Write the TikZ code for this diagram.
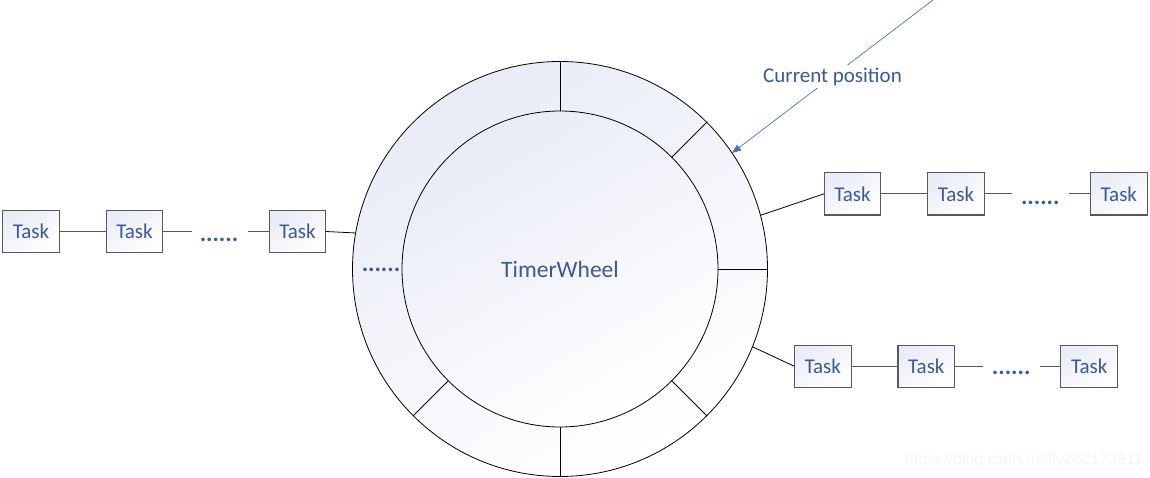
\documentclass[tikz,border=0pt]{standalone}
\usepackage{fontspec}
\setmainfont{Carlito}
\newfontfamily\markfont{Liberation Sans}
\usetikzlibrary{arrows.meta}
\definecolor{wheelblue}{RGB}{59,89,152}
\definecolor{ptrblue}{RGB}{68,114,196}
\definecolor{wheelshade}{RGB}{233,236,246}
\definecolor{boxgray}{RGB}{89,89,89}
\tikzset{
  softfill/.style={top color=wheelshade,bottom color=white,middle color=white!50!wheelshade,shading angle=30},
  wheelring/.style={circle,draw,line width=.8pt,inner sep=0pt,outer sep=0pt,minimum size=415pt,softfill},
  wheelhub/.style={circle,draw,line width=.8pt,inner sep=0pt,outer sep=0pt,minimum size=316pt,softfill,text=wheelblue,font=\fontsize{23.5}{28}\selectfont},
  taskbox/.style={draw=boxgray,line width=1.1pt,inner sep=0pt,outer sep=0pt,minimum width=56.7pt,minimum height=42.5pt,softfill,text=wheelblue,font=\fontsize{21}{25}\selectfont},
  taskdots/.style={inner sep=0pt,text=wheelblue,font=\fontsize{24}{28}\selectfont\bfseries},
  chainline/.style={draw=boxgray,line width=1.1pt},
  slotline/.style={line width=.8pt},
  ptrarr/.style={-{Triangle[length=9pt,width=7pt]},draw=ptrblue,line width=.7pt},
  ptrlabel/.style={fill=white,inner sep=3pt,text=wheelblue,font=\fontsize{21}{25}\selectfont},
  watermark/.style={text=gray!8,font=\markfont\fontsize{16}{19}\selectfont}
}
\begin{document}
\begin{tikzpicture}[x=1pt,y=-1pt]
  \useasboundingbox (0,0) rectangle (1150,478);
  \node[wheelring] (wheel) at (560,269) {};
  \node[wheelhub] (hub) at (560,269) {TimerWheel};
  \foreach \a in {90,45,0,-45,-90,-135} \draw[slotline] (hub.\a) -- (wheel.\a);
  \node[taskdots] (slotdots) at (381,270) {......};

  \node[taskbox] (t11) at (31,231.5) {Task}; \node[taskbox] (t12) at (134.5,231.5) {Task}; \node[taskbox] (t13) at (297.5,231.5) {Task};
  \node[taskdots] (d1) at (219,240) {......};
  \coordinate (d1a) at (191.7,231.5); \coordinate (d1b) at (248,231.5);
  \draw[chainline] (t11) -- (t12); \draw[chainline] (t12) -- (d1a); \draw[chainline] (d1b) -- (t13);
  \draw[slotline] (t13.east) -- (wheel.170.7);

  \node[taskbox] (t21) at (852.5,193.8) {Task}; \node[taskbox] (t22) at (956,193.8) {Task}; \node[taskbox] (t23) at (1118.8,193.8) {Task};
  \node[taskdots] (d2) at (1040.3,202.7) {......};
  \coordinate (d2a) at (1012.3,193.8); \coordinate (d2b) at (1069.3,193.8);
  \draw[chainline] (t21) -- (t22); \draw[chainline] (t22) -- (d2a); \draw[chainline] (d2b) -- (t23);
  \draw[slotline] (wheel.15.8) -- (t21.west);

  \node[taskbox] (t31) at (822.7,366.3) {Task}; \node[taskbox] (t32) at (926.3,366.3) {Task}; \node[taskbox] (t33) at (1089.2,366.3) {Task};
  \node[taskdots] (d3) at (1011.2,373) {......};
  \coordinate (d3a) at (983,366.3); \coordinate (d3b) at (1039.7,366.3);
  \draw[chainline] (t31) -- (t32); \draw[chainline] (t32) -- (d3a); \draw[chainline] (d3b) -- (t33);
  \draw[slotline] (wheel.-22.6) -- (t31.west);

  \coordinate (ptrstart) at (933,0);
  \draw[ptrarr] (ptrstart) -- node[ptrlabel] (ptrtext) {Current position} (wheel.34.6);

  \node[watermark] (mark) at (1024,460) {https://blog.csdn.net/ly262173911};
\end{tikzpicture}
\end{document}
